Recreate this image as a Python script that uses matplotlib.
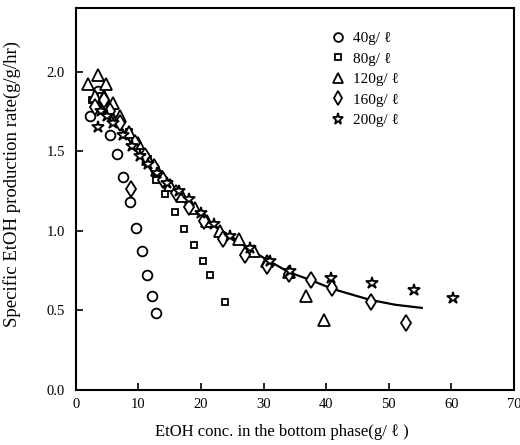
import matplotlib
matplotlib.use('Agg')
import matplotlib.pyplot as plt

plt.rcParams['font.family'] = ['Liberation Serif', 'DejaVu Serif']

# 40 g/l
x40 = [2.2, 3.0, 3.5, 4.5, 5.4, 6.5, 7.6, 8.6, 9.6, 10.5, 11.3, 12.1, 12.8]
y40 = [1.72, 1.82, 1.88, 1.78, 1.60, 1.48, 1.34, 1.18, 1.02, 0.87, 0.72, 0.59, 0.48]
# 80 g/l
x80 = [2.5, 4.0, 5.5, 7.0, 8.5, 10.0, 11.5, 12.8, 14.2, 15.8, 17.2, 18.8, 20.3, 21.5, 23.9]
y80 = [1.82, 1.85, 1.78, 1.70, 1.62, 1.53, 1.45, 1.32, 1.23, 1.12, 1.01, 0.91, 0.81, 0.72, 0.55]
# 120 g/l
x120 = [2.0, 3.5, 4.8, 3.0, 4.5, 6.0, 7.0, 8.5, 10.0, 11.5, 13.0, 15.0, 17.0, 19.0, 21.0,
        23.0, 26.0, 28.5, 30.5, 34.0, 36.8, 39.6]
y120 = [1.92, 1.98, 1.92, 1.85, 1.85, 1.80, 1.72, 1.62, 1.55, 1.45, 1.38, 1.29, 1.22, 1.14, 1.06,
        1.00, 0.95, 0.87, 0.81, 0.74, 0.59, 0.44]
# 160 g/l
x160 = [3.0, 4.5, 5.5, 7.0, 8.8, 9.5, 11.0, 12.5, 14.0, 16.0, 18.0, 20.5, 23.5, 27.1, 30.6,
        34.0, 37.6, 41.0, 47.2, 52.8]
y160 = [1.78, 1.82, 1.75, 1.68, 1.26, 1.55, 1.47, 1.40, 1.32, 1.24, 1.15, 1.06, 0.95, 0.85, 0.78,
        0.73, 0.69, 0.64, 0.55, 0.42]
# 200 g/l
x200 = [3.5, 4.0, 5.0, 6.0, 7.5, 9.0, 10.2, 11.5, 13.0, 14.5, 16.5, 18.0, 20.0, 22.0, 24.7,
        27.9, 31.1, 34.3, 40.8, 47.4, 54.1, 60.3]
y200 = [1.65, 1.75, 1.72, 1.68, 1.60, 1.53, 1.47, 1.42, 1.36, 1.30, 1.25, 1.20, 1.11, 1.04, 0.97,
        0.89, 0.81, 0.75, 0.70, 0.67, 0.63, 0.58]

# fitted curve
xfit = [3.5, 5, 7.5, 10, 12.5, 15, 17.5, 20, 22.5, 25, 27.5, 30, 34, 37.5, 41, 44, 47, 51, 55.3]
yfit = [1.90, 1.80, 1.63, 1.48, 1.36, 1.26, 1.18, 1.10, 1.02, 0.96, 0.89, 0.83, 0.74, 0.69,
        0.635, 0.60, 0.566, 0.535, 0.515]

series = [
    (x40, y40, 'o', 7, '40g/ ℓ'),
    (x80, y80, 's', 5, '80g/ ℓ'),
    (x120, y120, '^', 8, '120g/ ℓ'),
    (x160, y160, 'd', 8, '160g/ ℓ'),
    (x200, y200, '*', 9, '200g/ ℓ'),
]

fig = plt.figure(figsize=(5.2, 4.45), dpi=100)
ax = fig.add_axes([0.146, 0.124, 0.842, 0.858])

for xs, ys, m, ms, lab in series:
    ax.plot(xs, ys, linestyle='none', marker=m, markersize=ms, markerfacecolor='white',
            markeredgecolor='black', markeredgewidth=1.3, label=lab)

ax.plot(xfit, yfit, color='black', linewidth=1.6, zorder=1)

ax.set_xlim(0, 70)
ax.set_ylim(0, 2.4)
ax.set_xticks(range(0, 71, 10))
ax.set_yticks([0.0, 0.5, 1.0, 1.5, 2.0])
ax.set_yticklabels(['0.0', '0.5', '1.0', '1.5', '2.0'])
ax.tick_params(direction='in', length=5, width=1.2, labelsize=10.5, top=False, right=False)
ax.tick_params(axis='x', pad=6)
ax.tick_params(axis='y', pad=8)
for s in ax.spines.values():
    s.set_linewidth(1.5)

ax.set_xlabel('EtOH conc. in the bottom phase(g/ ℓ )', fontsize=12)
ax.set_ylabel('Specific EtOH production rate(g/g/hr)', fontsize=13.5)
ax.xaxis.set_label_coords(0.47, -0.09)
ax.yaxis.set_label_coords(-0.125, 0.54)

ax.legend(loc='upper left', bbox_to_anchor=(0.55, 0.975), frameon=False, fontsize=11,
          handlelength=1.0, handletextpad=0.5, labelspacing=0.45, markerscale=0.9)

fig.savefig('out.png')
